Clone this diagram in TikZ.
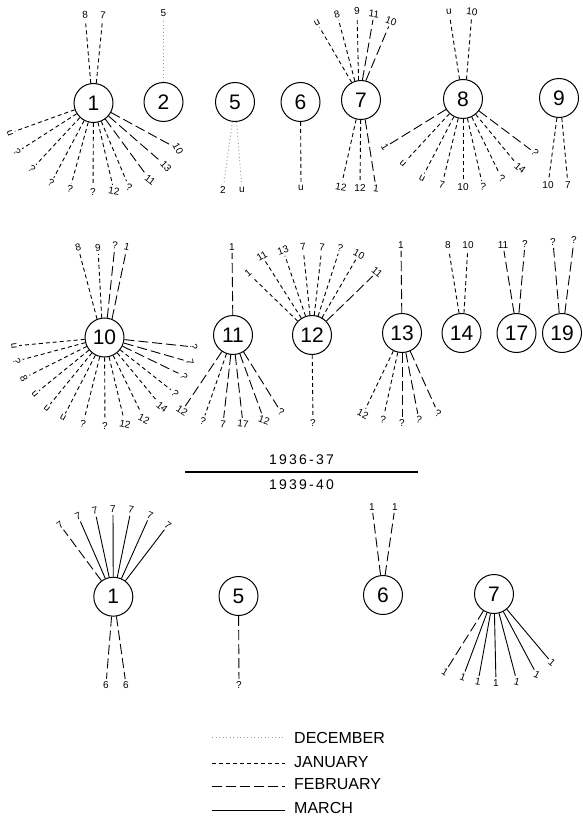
\documentclass[tikz,border=0pt]{standalone}
\usepackage{fontspec}
\setmainfont{Liberation Sans}
\tikzset{
  circ/.style={circle,draw,line width=1pt,minimum size=39pt,inner sep=0pt,font=\fontsize{21}{21}\selectfont},
  lab/.style={inner sep=0.3pt,font=\fontsize{10}{10}\selectfont},
  spoke/.style={line width=0.9pt,shorten >=2pt},
  jan/.style={spoke,dash pattern=on 4pt off 3pt},
  feb/.style={spoke,dash pattern=on 10pt off 4pt},
  mar/.style={spoke},
  dec/.style={spoke,draw=black!40,dash pattern=on 1pt off 2.5pt},
  yr/.style={inner sep=1pt,font=\fontsize{14}{14}\selectfont\addfontfeature{LetterSpace=16}},
  key/.style={inner sep=0pt,anchor=west,font=\fontsize{16}{16}\selectfont},
}
% one labelled spoke: start, name, position, text, text rotation, line style
\newcommand\spk[6]{\node[lab,rotate=#5] (#2) at (#3) {#4}; \draw[#6] (#1) -- (#2);}
\begin{document}
\begin{tikzpicture}[x=1pt,y=-1pt]
\useasboundingbox (0,0) rectangle (582,818);

% ---------- 1936-37, first row ----------
\node[circ] (a1) at (93.5,103) {1};
\node[circ] (a2) at (163.5,102) {2};
\node[circ] (a5) at (235,102) {5};
\node[circ] (a6) at (300.5,102) {6};
\node[circ] (a7) at (361,100) {7};
\node[circ] (a8) at (463,99) {8};
\node[circ] (a9) at (559,98) {9};

\spk{a1.98}{a1t1}{85,15}{8}{5}{jan}
\spk{a1.82}{a1t2}{103,15}{7}{-5}{jan}
\spk{a1}{a1b1}{10,133}{u}{-70}{jan}
\spk{a1}{a1b2}{17,152}{?}{-57}{jan}
\spk{a1}{a1b3}{32,169}{?}{-43}{jan}
\spk{a1}{a1b4}{51,183}{?}{-28}{jan}
\spk{a1}{a1b5}{70,189}{?}{-15}{jan}
\spk{a1}{a1b6}{93,192}{?}{0}{jan}
\spk{a1}{a1b7}{114,191}{12}{-10}{jan}
\spk{a1}{a1b8}{129,187}{?}{-23}{jan}
\spk{a1}{a1b9}{150,180}{11}{-37}{feb}
\spk{a1}{a1b10}{166,166}{13}{-48}{feb}
\spk{a1}{a1b11}{178,149}{10}{-60}{feb}

\spk{a2}{a2t}{163.5,13}{5}{0}{dec}

\spk{a5}{a5b1}{223,190}{2}{0}{dec}
\spk{a5}{a5b2}{242,190}{u}{0}{dec}

\spk{a6}{a6b}{301,188}{u}{0}{jan}

\spk{a7.118}{a7t1}{317,23}{u}{29}{jan}
\spk{a7.108}{a7t2}{337,14}{8}{15}{jan}
\spk{a7.97}{a7t3}{357,11}{9}{3}{jan}
\spk{a7.86}{a7t4}{374,14}{11}{-8}{feb}
\spk{a7.76}{a7t5}{391,21}{10}{-20}{feb}
\spk{a7.256}{a7b1}{341,187}{12}{-10}{jan}
\spk{a7.269}{a7b2}{360,188}{12}{0}{jan}
\spk{a7.282}{a7b3}{376,188}{1}{-8}{feb}

\spk{a8.100}{a8t1}{449,12}{u}{5}{jan}
\spk{a8.80}{a8t2}{472,12}{10}{-5}{jan}
\spk{a8}{a8b1}{385,147}{1}{-58}{feb}
\spk{a8}{a8b2}{403,164}{u}{-43}{jan}
\spk{a8}{a8b3}{422,178}{u}{-27}{jan}
\spk{a8}{a8b4}{442,185}{7}{-14}{jan}
\spk{a8}{a8b5}{463,187}{10}{0}{jan}
\spk{a8}{a8b6}{483,187}{?}{-12}{jan}
\spk{a8}{a8b7}{502,179}{?}{-26}{jan}
\spk{a8}{a8b8}{520,168}{14}{-39}{jan}
\spk{a8}{a8b9}{535,153}{?}{-52}{feb}

\spk{a9.264}{a9b1}{548,185}{10}{0}{jan}
\spk{a9.278}{a9b2}{568,185}{7}{0}{jan}

% ---------- 1936-37, second row ----------
\node[circ] (b10) at (104.5,337.5) {10};
\node[circ] (b11) at (233,335) {11};
\node[circ] (b12) at (312,335) {12};
\node[circ] (b13) at (402,333) {13};
\node[circ] (b14) at (461.5,333) {14};
\node[circ] (b17) at (516.5,333) {17};
\node[circ] (b19) at (562,333) {19};

\spk{b10.112}{b10t1}{78,247}{8}{16}{jan}
\spk{b10.98}{b10t2}{98,248}{9}{4}{jan}
\spk{b10.82}{b10t3}{115,245}{?}{-6}{feb}
\spk{b10.68}{b10t4}{127,247}{1}{-14}{feb}
\spk{b10}{b10b1}{14,346}{u}{-84}{jan}
\spk{b10}{b10b2}{17,361}{?}{-75}{jan}
\spk{b10}{b10b3}{24,378}{8}{-64}{jan}
\spk{b10}{b10b4}{35,394}{u}{-51}{jan}
\spk{b10}{b10b5}{47,408}{u}{-40}{jan}
\spk{b10}{b10b6}{63,418}{u}{-28}{jan}
\spk{b10}{b10b7}{83,424}{?}{-14}{jan}
\spk{b10}{b10b8}{105,426}{?}{0}{jan}
\spk{b10}{b10b9}{125,424}{12}{-13}{jan}
\spk{b10}{b10b10}{144,419}{12}{-26}{jan}
\spk{b10}{b10b11}{162,407}{14}{-39}{jan}
\spk{b10}{b10b12}{175,393}{?}{-51}{jan}
\spk{b10}{b10b13}{184,376}{?}{-64}{feb}
\spk{b10}{b10b14}{190,362}{7}{-73}{feb}
\spk{b10}{b10b15}{194,347}{?}{-83}{feb}

\spk{b11}{b11t}{232,247}{1}{0}{feb}
\spk{b11}{b11b1}{182,411}{12}{-34}{feb}
\spk{b11}{b11b2}{203,421}{?}{-19}{jan}
\spk{b11}{b11b3}{223,424}{7}{-6}{feb}
\spk{b11}{b11b4}{243,424}{17}{-6}{feb}
\spk{b11}{b11b5}{264,420}{12}{-20}{feb}
\spk{b11}{b11b6}{281,412}{?}{-31}{feb}

\spk{b12}{b12t1}{248,273}{1}{40}{jan}
\spk{b12}{b12t2}{262,256}{11}{30}{jan}
\spk{b12}{b12t3}{283,250}{13}{19}{jan}
\spk{b12}{b12t4}{303,247}{7}{6}{jan}
\spk{b12}{b12t5}{322,247}{7}{-6}{jan}
\spk{b12}{b12t6}{340,248}{?}{-18}{jan}
\spk{b12}{b12t7}{359,254}{10}{-29}{jan}
\spk{b12}{b12t8}{377,272}{11}{-40}{feb}
\spk{b12}{b12b}{313,423}{?}{0}{jan}

\spk{b13}{b13t}{401,245}{1}{0}{feb}
\spk{b13}{b13b1}{363,414}{12}{-26}{jan}
\spk{b13}{b13b2}{383,420}{?}{-12}{jan}
\spk{b13}{b13b3}{402,423}{?}{0}{feb}
\spk{b13}{b13b4}{419,420}{?}{-11}{feb}
\spk{b13}{b13b5}{438,413}{?}{-24}{feb}

\spk{b14.97}{b14t1}{448,245}{8}{0}{jan}
\spk{b14.83}{b14t2}{468,245}{10}{0}{jan}

\spk{b17.97}{b17t1}{503,245}{11}{0}{feb}
\spk{b17.83}{b17t2}{525,244}{?}{0}{feb}

\spk{b19.98}{b19t1}{553,242}{?}{0}{feb}
\spk{b19.82}{b19t2}{574,240}{?}{0}{feb}

% ---------- season divider ----------
\node[yr] (y1) at (301.5,460) {1936-37};
\coordinate (dl) at (185,472);
\coordinate (dr) at (418,472);
\draw[line width=2.4pt] (dl) -- (dr);
\node[yr] (y2) at (301.5,485) {1939-40};

% ---------- 1939-40 ----------
\node[circ] (c1) at (113.3,596.7) {1};
\node[circ] (c5) at (238.5,596) {5};
\node[circ] (c6) at (383,595) {6};
\node[circ] (c7) at (494,594) {7};

\spk{c1}{c1t1}{60,525}{7}{37}{feb}
\spk{c1}{c1t2}{78,516}{7}{24}{mar}
\spk{c1}{c1t3}{95,511}{7}{12}{mar}
\spk{c1}{c1t4}{113,509}{7}{0}{mar}
\spk{c1}{c1t5}{131,510}{7}{-12}{mar}
\spk{c1}{c1t6}{150,515}{7}{-24}{mar}
\spk{c1}{c1t7}{168,525}{7}{-37}{mar}
\spk{c1.265}{c1b1}{106,685}{6}{0}{feb}
\spk{c1.279}{c1b2}{126,685}{6}{0}{feb}

\spk{c5}{c5b}{239,685}{?}{0}{feb}

\spk{c6.97}{c6t1}{372,507}{1}{0}{feb}
\spk{c6.84}{c6t2}{395,507}{1}{0}{feb}

\spk{c7}{c7b1}{445,672}{1}{-32}{feb}
\spk{c7}{c7b2}{463,677}{1}{-20}{mar}
\spk{c7}{c7b3}{478,682}{1}{-10}{mar}
\spk{c7}{c7b4}{496,683}{1}{0}{mar}
\spk{c7}{c7b5}{517,682}{1}{-15}{mar}
\spk{c7}{c7b6}{537,675}{1}{-28}{mar}
\spk{c7}{c7b7}{552,663}{1}{-40}{mar}

% ---------- key ----------
\coordinate (k1a) at (212,737); \coordinate (k1b) at (287,737);
\coordinate (k2a) at (212,763); \coordinate (k2b) at (287,763);
\coordinate (k3a) at (212,786); \coordinate (k3b) at (287,786);
\coordinate (k4a) at (212,810); \coordinate (k4b) at (287,810);
\draw[dec] (k1a) -- (k1b);
\draw[jan] (k2a) -- (k2b);
\draw[feb] (k3a) -- (k3b);
\draw[mar] (k4a) -- (k4b);
\node[key] (k1) at (294,738) {DECEMBER};
\node[key] (k2) at (294,762) {JANUARY};
\node[key] (k3) at (294,784) {FEBRUARY};
\node[key] (k4) at (294,808) {MARCH};
\end{tikzpicture}
\end{document}
